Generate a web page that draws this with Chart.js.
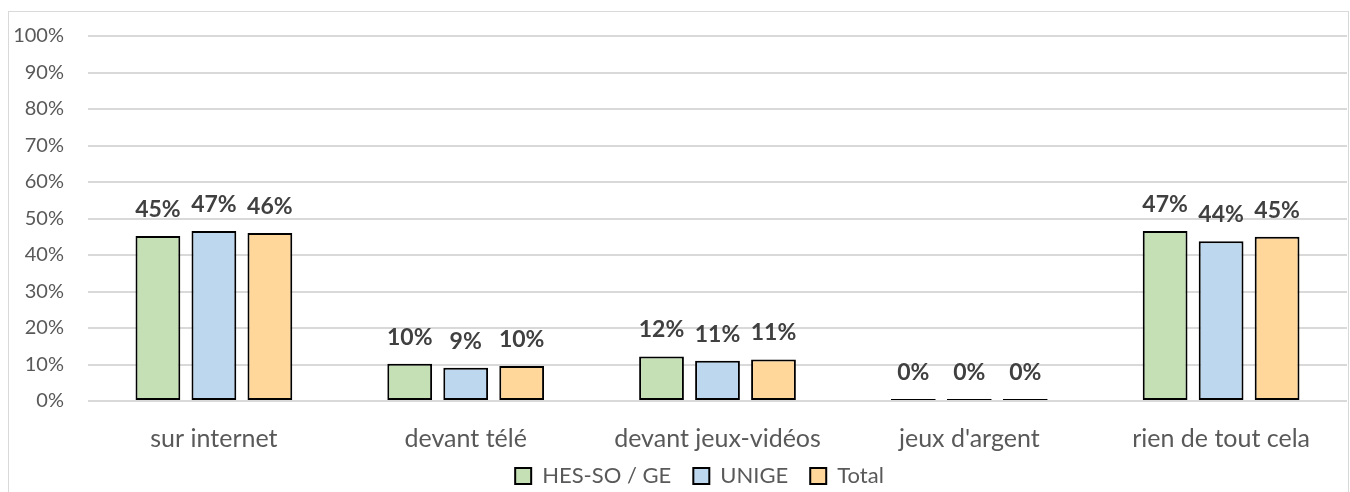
<!DOCTYPE html>
<html>
<head>
<meta charset="utf-8">
<script src="https://cdn.jsdelivr.net/npm/chart.js@4/dist/chart.umd.min.js"></script>
<style>
  html, body { margin: 0; padding: 0; background: #ffffff; }
  #wrap { position: relative; width: 1350px; height: 492px; }
</style>
</head>
<body>
<div id="wrap"><canvas id="c" width="1350" height="492"></canvas></div>
<script>
// Activités pratiquées
const categories = ['sur internet', 'devant télé', 'devant jeux-vidéos', "jeux d'argent", 'rien de tout cela'];
const seriesNames = ['HES-SO / GE', 'UNIGE', 'Total'];
const hesValues = [45.2, 10.2, 12.2, 0.2, 46.6];
const unigeValues = [46.6, 9.1, 11.0, 0.4, 43.8];
const totalValues = [46.0, 9.6, 11.4, 0.3, 45.0];
const yTicks = [0, 10, 20, 30, 40, 50, 60, 70, 80, 90, 100];

const fillColors = ['#c5e0b4', '#bdd7ee', '#ffd79b'];
const FONT = 'Lato, "Open Sans", sans-serif';

// white background and light outer frame
const framePlugin = {
  id: 'frame',
  beforeDraw(chart) {
    const ctx = chart.ctx;
    ctx.save();
    ctx.fillStyle = '#ffffff';
    ctx.fillRect(0, 0, chart.width, chart.height);
    ctx.strokeStyle = '#d9d9d9';
    ctx.lineWidth = 1;
    ctx.strokeRect(8.5, 11.5, 1340, 600);
    ctx.restore();
  }
};

// place the legend row just under the category labels, a bit right of centre
const legendNudge = {
  id: 'legendNudge',
  afterLayout(chart) {
    const lg = chart.legend;
    if (lg) {
      lg.top -= 8; lg.bottom -= 8;
      lg.left += 26; lg.right += 26;
    }
  }
};

// value labels above each bar
const valueLabels = {
  id: 'valueLabels',
  afterDatasetsDraw(chart) {
    const ctx = chart.ctx;
    ctx.save();
    ctx.font = 'bold 23px ' + FONT;
    ctx.fillStyle = '#404040';
    ctx.textAlign = 'center';
    ctx.textBaseline = 'alphabetic';
    chart.data.datasets.forEach((ds, i) => {
      chart.getDatasetMeta(i).data.forEach((el, j) => {
        ctx.fillText(Math.round(ds.data[j]) + '%', el.x, el.y - 19);
      });
    });
    ctx.restore();
  }
};

const values = [hesValues, unigeValues, totalValues];

new Chart(document.getElementById('c'), {
  type: 'bar',
  data: {
    labels: categories,
    datasets: seriesNames.map((name, i) => ({
      label: name,
      data: values[i],
      backgroundColor: fillColors[i],
      borderColor: '#000000',
      borderWidth: 2,
      borderSkipped: false,
      minBarLength: 2,
      categoryPercentage: 0.667,
      barPercentage: 0.8
    }))
  },
  options: {
    responsive: false,
    animation: false,
    devicePixelRatio: 1,
    layout: { padding: { top: 26, right: 3, bottom: -13, left: 0 } },
    plugins: {
      legend: {
        position: 'bottom',
        labels: {
          boxWidth: 16,
          boxHeight: 16,
          padding: 22,
          color: '#595959',
          font: { family: FONT, size: 22 }
        }
      },
      tooltip: { enabled: false }
    },
    scales: {
      x: {
        grid: { display: false },
        border: { display: false },
        ticks: {
          color: '#595959',
          padding: 15,
          font: { family: FONT, size: 25 }
        },
        afterFit(scale) { scale.height = 50; }
      },
      y: {
        min: 0,
        max: 100,
        afterBuildTicks(scale) { scale.ticks = yTicks.map(v => ({ value: v })); },
        grid: { color: '#d9d9d9', lineWidth: 2, drawTicks: false },
        border: { display: false },
        ticks: {
          color: '#595959',
          padding: 24,
          font: { family: FONT, size: 20 },
          callback: v => v + '%'
        },
        afterFit(scale) { scale.width = 88; }
      }
    }
  },
  plugins: [framePlugin, legendNudge, valueLabels]
});
</script>
</body>
</html>
